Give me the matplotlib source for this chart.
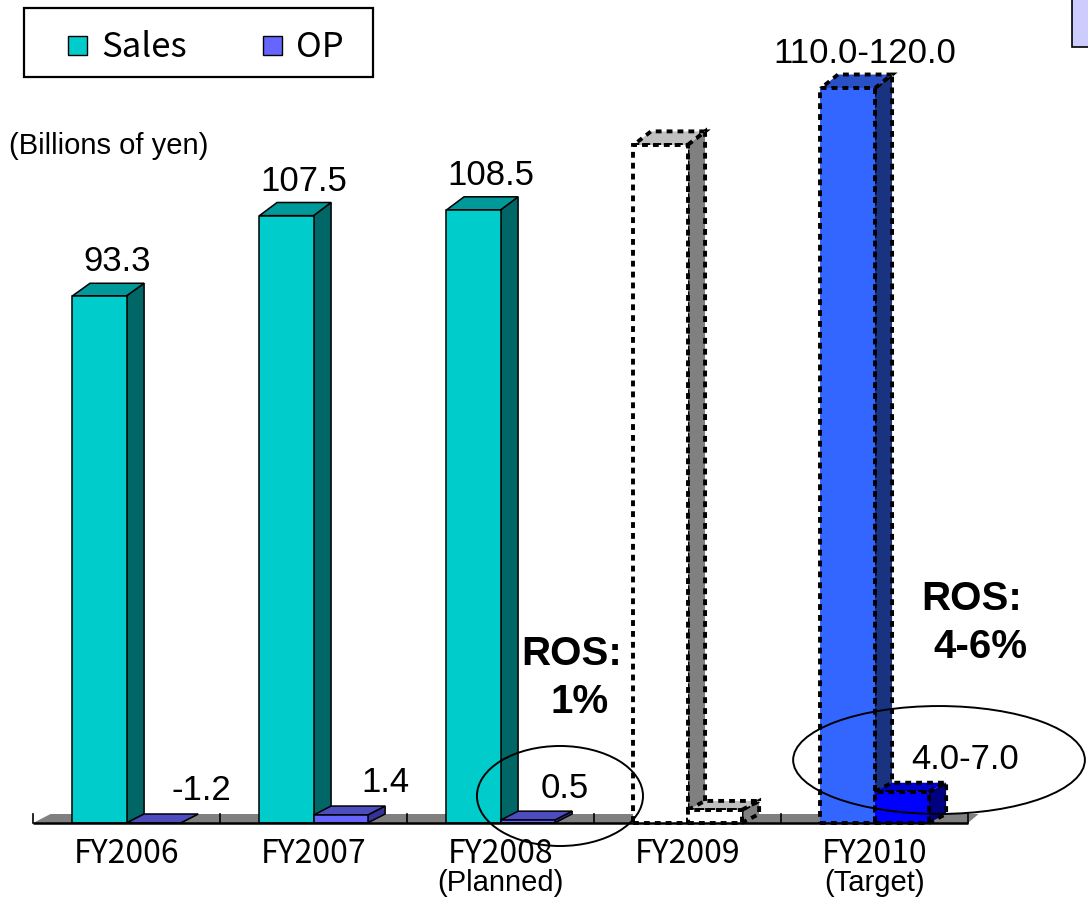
import matplotlib
matplotlib.use("Agg")
import matplotlib.pyplot as plt
from matplotlib.patches import Polygon, Rectangle, Ellipse

# sales and operating profit, billions of yen
categories = ["FY2006", "FY2007", "FY2008", "FY2009", "FY2010"]
sub_labels = ["", "", "(Planned)", "", "(Target)"]
sales = [93.3, 107.5, 108.5, 120.0, 130.0]
sales_labels = ["93.3", "107.5", "108.5", "", "110.0-120.0"]
op = [-1.2, 1.4, 0.5, 2.3, 5.5]
op_labels = ["-1.2", "1.4", "0.5", "", "4.0-7.0"]

# face colours per category: (front, top, side)
SALES_COLORS = [("#00CCCC", "#009999", "#006666")] * 3 + [
    ("#FFFFFF", "#C0C0C0", "#808080"),
    ("#3366FF", "#2A50C8", "#1A3380"),
]
OP_COLORS = [("#6666FF", "#4D4DC0", "#33339A")] * 3 + [
    ("#FFFFFF", "#C0C0C0", "#808080"),
    ("#0000FF", "#0000CC", "#000080"),
]
DASHED = [False, False, False, True, True]
OP_LABEL_DX = [0.254, 0.24, 0.2, 0.0, 0.34]

W, H = 1088, 897
BAR_W = 0.289
DX = 0.094
FONT = "Liberation Sans"
GOTHIC = "Noto Sans CJK JP"


def depth(y):
    # vertical depth offset grows a little with height (perspective)
    return (9 + 5 * max(y, 0) / 130) / 5.65


def bar3d(ax, x0, y1, colors, dashed, z):
    y0 = 0.0
    y1 = max(y1, 0.0)  # negative values sit flat on the floor
    d0, d1 = depth(y0), depth(y1)
    front = [(x0, y0), (x0 + BAR_W, y0), (x0 + BAR_W, y1), (x0, y1)]
    top = [(x0, y1), (x0 + BAR_W, y1), (x0 + BAR_W + DX, y1 + d1), (x0 + DX, y1 + d1)]
    side = [(x0 + BAR_W, y0), (x0 + BAR_W + DX, y0 + d0),
            (x0 + BAR_W + DX, y1 + d1), (x0 + BAR_W, y1)]
    if dashed:
        kw = dict(edgecolor="black", linewidth=2.8, linestyle=(0, (1.5, 1.3)))
    else:
        kw = dict(edgecolor="black", linewidth=1.1)
    for pts, fc in zip([side, top, front], [colors[2], colors[1], colors[0]]):
        ax.add_patch(Polygon(pts, closed=True, facecolor=fc, zorder=z,
                             joinstyle="miter", capstyle="butt", **kw))


def fig_xy(px, py):
    return px / W, 1 - py / H


fig = plt.figure(figsize=(W / 100, H / 100), dpi=100)
ax = fig.add_axes([0, 0, 1, 1])
ax.set_xlim(-0.5 - 33 / 187, 4.5 + 120 / 187)
ax.set_ylim(-74 / 5.65, 823 / 5.65)
ax.axis("off")

# floor
d = depth(0)
ax.add_patch(Polygon([(-0.5, 0), (4.5, 0), (4.5 + DX * 0.6, d), (-0.5 + DX, d)],
                     closed=True, facecolor="#808080", edgecolor="none", zorder=1))
for b in range(6):
    ax.plot([b - 0.5, b - 0.5], [0, d], color="black", lw=1.2, zorder=1.5)
ax.plot([-0.5, 4.5], [0, 0], color="black", lw=1.8, zorder=20,
        solid_capstyle="butt")

for i in range(len(categories)):
    bar3d(ax, i - BAR_W, sales[i], SALES_COLORS[i], DASHED[i], 2 + 2 * i)
    bar3d(ax, i, op[i], OP_COLORS[i], DASHED[i], 3 + 2 * i)

    if sales_labels[i]:
        ax.text(i - BAR_W / 2 + DX, sales[i] + depth(sales[i]) + 2.1,
                sales_labels[i], ha="center", va="baseline",
                fontsize=25, family=FONT, zorder=30)
    if op_labels[i]:
        y = max(op[i], 0)
        ax.text(i + BAR_W / 2 + OP_LABEL_DX[i], y + depth(y) + 2.4,
                op_labels[i], ha="center", va="baseline",
                fontsize=25, family=FONT, zorder=30)

    ax.text(i, -40 / 5.65, categories[i], ha="center", va="baseline",
            fontsize=23, family=GOTHIC, zorder=30)
    if sub_labels[i]:
        ax.text(i, -68 / 5.65, sub_labels[i], ha="center", va="baseline",
                fontsize=21, family=FONT, zorder=30)

# ellipses around the ROS-related operating profit figures
ax.add_patch(Ellipse((2 + 0.318, 4.78), 0.888, 17.7, fill=False,
                     edgecolor="black", lw=1.4, zorder=25))
ax.add_patch(Ellipse((4 + 0.345, 11.15), 1.56, 19.1, fill=False,
                     edgecolor="black", lw=1.4, zorder=25, clip_on=False))

# ROS annotations
fig.text(*fig_xy(572, 665), "ROS:", ha="center", va="baseline",
         fontsize=29, fontweight="bold", family=FONT)
fig.text(*fig_xy(580, 713), "1%", ha="center", va="baseline",
         fontsize=29, fontweight="bold", family=FONT)
fig.text(*fig_xy(972, 610), "ROS:", ha="center", va="baseline",
         fontsize=29, fontweight="bold", family=FONT)
fig.text(*fig_xy(980, 658), "4-6%", ha="center", va="baseline",
         fontsize=29, fontweight="bold", family=FONT)

fig.text(*fig_xy(9, 154), "(Billions of yen)", ha="left", va="baseline",
         fontsize=21, family=FONT)

# legend box
fig.patches.append(Rectangle(fig_xy(24, 77), 349 / W, 69 / H, transform=fig.transFigure,
                             facecolor="white", edgecolor="black", lw=1.6))
for px, color, name in [(68, "#00CCCC", "Sales"), (263, "#6666FF", "OP")]:
    fig.patches.append(Rectangle(fig_xy(px, 55), 19 / W, 19 / H,
                                 transform=fig.transFigure,
                                 facecolor=color, edgecolor="black", lw=1.0))
    fig.text(*fig_xy(px + 33, 57), name, ha="left", va="baseline",
             fontsize=25, family=GOTHIC)

# clipped box at the top-right edge
fig.patches.append(Rectangle(fig_xy(1072, 47), 30 / W, 60 / H, transform=fig.transFigure,
                             facecolor="#CCCCFF", edgecolor="black", lw=1.2))

fig.savefig("out.png", dpi=100)
